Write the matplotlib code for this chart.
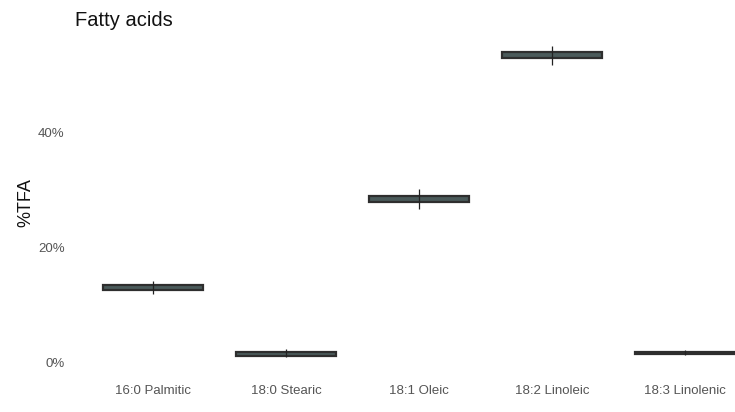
import numpy as np
import matplotlib.pyplot as plt

plt.rcParams['font.family'] = ['Liberation Sans', 'DejaVu Sans']

# fatty acid composition (% of total fatty acids)
acids = ['16:0 Palmitic', '18:0 Stearic', '18:1 Oleic', '18:2 Linoleic', '18:3 Linolenic']
box_low = [12.7, 1.2, 28.0, 53.0, 1.6]
box_high = [13.6, 1.9, 29.0, 54.1, 1.9]
mean_vals = [13.2, 1.6, 28.5, 53.6, 1.75]
err_low = [12.0, 1.0, 26.8, 51.8, 1.4]
err_high = [14.3, 2.4, 30.3, 55.1, 2.3]

fig = plt.figure(figsize=(7.35, 4.12), dpi=100)
ax = fig.add_axes([80 / 735, 1 - 375 / 412, 1 - 80 / 735, (375 - 30) / 412])

x = np.arange(len(acids))
heights = np.array(box_high) - np.array(box_low)
ax.bar(x, heights, bottom=box_low, width=0.75, color='#4a5a5a',
       edgecolor='#2e2e2e', linewidth=1.6, zorder=2)
ax.vlines(x, err_low, err_high, color='#222222', linewidth=0.9, zorder=3)

ax.set_xlim(-0.55, 4.376)
ax.set_ylim(-2.1, 57.9)
ax.set_yticks([0, 20, 40])
ax.set_yticklabels(['0%', '20%', '40%'])
ax.set_xticks(x)
ax.set_xticklabels(acids)
ax.tick_params(length=0, labelsize=9.5, colors='#555555')
ax.tick_params(axis='x', pad=7)
ax.tick_params(axis='y', pad=11)
for s in ax.spines.values():
    s.set_visible(False)

ax.set_ylabel('%TFA', fontsize=13, color='#111111', labelpad=3)
fig.text(75 / 735, 1 - 20 / 412, 'Fatty acids', fontsize=14.5, va='center', color='#111111')

fig.savefig('out.png', dpi=100)
